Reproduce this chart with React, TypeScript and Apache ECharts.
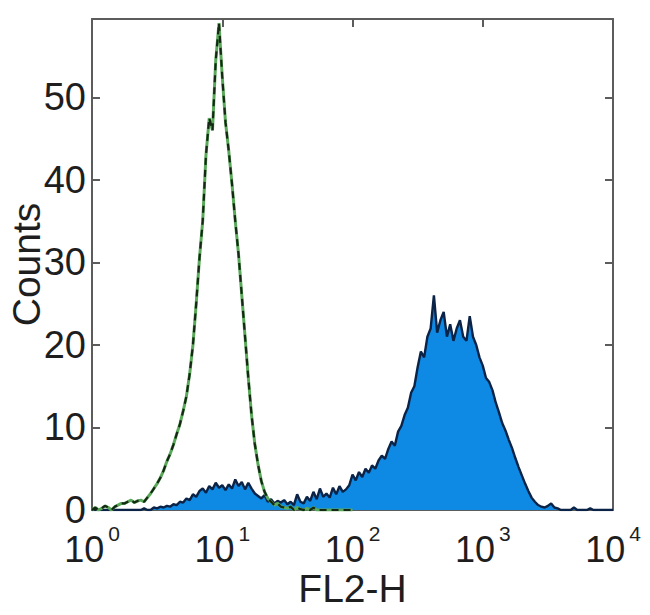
import React, { useEffect, useRef } from "react";
import * as echarts from "echarts";

// Histogram channels: each channel is 0.025 decade wide, starting at 10^0
const channelStep = 0.025;

// Isotype control (green / dashed) counts per channel, from 10^0 to 10^2
const controlCounts = [
  0, 0.3, 0, 0.2, 0.5, 0.3, 0, 0.4, 0.6, 0.8,
  0.8, 1.0, 1.2, 0.9, 1.1, 1.2, 1.0, 1.5, 2.0, 2.6,
  3.2, 3.9, 4.8, 5.9, 6.8, 7.9, 9.2, 10.4, 12.0, 13.8,
  16.5, 20.0, 25.0, 30.5, 35.0, 43.0, 47.5, 46.0, 54.5, 59.0,
  52.5, 47.0, 43.5, 39.5, 35.0, 31.0, 26.0, 21.0, 16.0, 11.5,
  8.0, 5.5, 3.5, 2.2, 1.4, 1.0, 0.6, 0.8, 0.4, 0.3,
  0.2, 0.4, 0, 0.3, 0.1, 0, 0.2, 0, 0.3, 0,
  0, 0, 0, 0, 0, 0, 0, 0, 0, 0, 0,
];

// Stained sample (blue filled) counts per channel, from 10^0 to 10^4
const stainedCounts = [
  0, 0, 0, 0, 0, 0, 0, 0, 0, 0, 0, 0, 0, 0, 0, 0,
  0.2, 0, 0, 0.3, 0.2, 0.4, 0.3, 0.5,
  0.4, 0.7, 0.6, 1.0, 0.9, 1.4, 1.2, 1.9,
  1.6, 2.3, 2.6, 2.1, 2.9, 2.5, 3.3, 2.7,
  3.0, 2.4, 3.1, 2.6, 3.7, 2.9, 3.4, 2.5,
  3.3, 2.6, 2.0, 1.7, 1.4, 1.8, 1.0, 1.3,
  0.8, 1.1, 0.9, 1.2, 0.7, 1.0, 0.6, 1.9,
  1.0, 0.8, 1.6, 1.1, 2.2, 1.3, 2.6, 1.6,
  2.0, 1.5, 2.7, 1.9, 2.9, 2.2, 2.5, 3.0,
  4.3, 3.6, 4.6, 4.0, 5.0, 4.5, 5.4, 5.0,
  6.0, 6.6, 6.2, 7.4, 8.3, 7.8, 9.5, 10.2,
  11.5, 12.4, 14.2, 15.0, 17.3, 19.2, 18.5, 21.0,
  22.0, 26.0, 21.5, 23.0, 24.0, 21.0, 22.5, 20.5,
  22.0, 23.0, 21.0, 20.5, 23.5, 21.0, 20.0, 18.5,
  17.5, 16.0, 15.5, 14.5, 13.0, 11.8, 10.5, 9.6,
  8.5, 7.5, 6.3, 5.2, 4.2, 3.2, 2.3, 1.5,
  1.0, 0.6, 0.4, 0.3, 0.5, 0.8, 0.3, 0.2,
  0, 0, 0, 0, 0.3, 0, 0, 0,
  0, 0.2, 0, 0, 0, 0, 0, 0, 0,
];

const xMin = 1;
const xMax = 10000;
const yMin = 0;
const yMax = 59.5;
const yInterval = 10;
const xTitle = "FL2-H";
const yTitle = "Counts";

const FONT = "'Liberation Sans', Arial, sans-serif";
const TEXT = "#1e1e1e";
const FRAME = "#5c5c5c";

const toXY = (counts: number[]) =>
  counts.map((c, i) => [Math.pow(10, i * channelStep), c]);

export default function App() {
  const ref = useRef<HTMLDivElement>(null);

  useEffect(() => {
    document.body.style.margin = "0";
    const chart = echarts.init(ref.current!, null, { renderer: "svg" });

    const axisLine = { show: true, onZero: false, lineStyle: { color: FRAME, width: 2 } };
    const axisTick = { show: true, inside: true, length: 8, lineStyle: { color: FRAME, width: 2 } };

    const option: any = {
      animation: false,
      backgroundColor: "#ffffff",
      grid: {
        left: 92,
        right: 37,
        top: 19,
        bottom: 105,
        containLabel: false,
        outerBoundsMode: "none",
      },
      xAxis: [
        {
          type: "log",
          logBase: 10,
          min: xMin,
          max: xMax,
          position: "bottom",
          name: xTitle,
          nameLocation: "middle",
          nameGap: 62,
          nameMoveOverlap: false,
          nameTextStyle: { fontFamily: FONT, fontSize: 39, lineHeight: 32, color: TEXT },
          axisLine,
          axisTick,
          minorTick: { show: false },
          splitLine: { show: false },
          axisLabel: {
            margin: 13,
            formatter: (v: number) => `{b|10}{s|${Math.round(Math.log10(v))}}`,
            rich: {
              b: { fontSize: 36, fontFamily: FONT, color: TEXT, verticalAlign: "bottom", padding: [8, 0, 0, 0] },
              s: { fontSize: 21, fontFamily: FONT, color: TEXT, verticalAlign: "top", padding: [0, 0, 0, 4] },
            },
          },
        },
        {
          type: "log",
          logBase: 10,
          min: xMin,
          max: xMax,
          position: "top",
          axisLine,
          axisTick,
          minorTick: { show: false },
          splitLine: { show: false },
          axisLabel: { show: false },
        },
      ],
      yAxis: [
        {
          type: "value",
          min: yMin,
          max: yMax,
          interval: yInterval,
          position: "left",
          name: yTitle,
          nameLocation: "middle",
          nameGap: 46,
          nameMoveOverlap: false,
          nameTextStyle: { fontFamily: FONT, fontSize: 39, color: TEXT },
          axisLine,
          axisTick,
          splitLine: { show: false },
          axisLabel: {
            margin: 6,
            fontSize: 38,
            lineHeight: 24,
            fontFamily: FONT,
            color: TEXT,
            showMaxLabel: false,
            formatter: (v: number) => (v % yInterval === 0 ? String(v) : ""),
          },
        },
        {
          type: "value",
          min: yMin,
          max: yMax,
          interval: yInterval,
          position: "right",
          axisLine,
          axisTick,
          splitLine: { show: false },
          axisLabel: { show: false },
        },
      ],
      series: [
        {
          type: "line",
          name: "Stained",
          data: toXY(stainedCounts),
          xAxisIndex: 0,
          yAxisIndex: 0,
          symbol: "none",
          lineStyle: { color: "#0b2347", width: 2.4 },
          areaStyle: { color: "#0e8ae4", opacity: 1 },
          z: 2,
        },
        {
          type: "line",
          name: "Control",
          data: toXY(controlCounts),
          xAxisIndex: 0,
          yAxisIndex: 0,
          symbol: "none",
          lineStyle: { color: "#5aa85a", width: 3 },
          z: 3,
        },
        {
          type: "line",
          name: "Control outline",
          data: toXY(controlCounts),
          xAxisIndex: 0,
          yAxisIndex: 0,
          symbol: "none",
          lineStyle: { color: "#142814", width: 2.2, type: [7, 5] },
          z: 4,
        },
      ],
    };

    chart.setOption(option);
    return () => chart.dispose();
  }, []);

  return <div ref={ref} style={{ width: 650, height: 615 }} />;
}
